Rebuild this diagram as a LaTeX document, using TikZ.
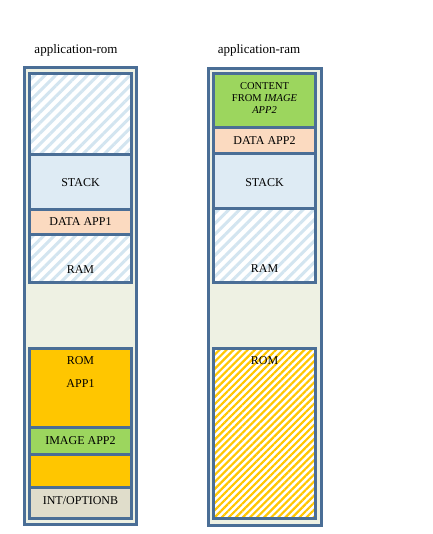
\documentclass[tikz,border=0pt]{standalone}
\usepackage{fontspec}
\setmainfont{Liberation Serif}
\usetikzlibrary{patterns.meta}

\definecolor{frameblue}{HTML}{4A6E96}
\definecolor{panelbg}{HTML}{EEF1E3}
\definecolor{stackblue}{HTML}{DEEBF4}
\definecolor{hatchblue}{HTML}{D3E5F0}
\definecolor{datapeach}{HTML}{FBDAC0}
\definecolor{romyellow}{HTML}{FFC600}
\definecolor{imagegreen}{HTML}{9CD65E}
\definecolor{intgrey}{HTML}{E0DDCB}

\tikzset{
  panel/.style={draw=frameblue, line width=3pt, fill=panelbg},
  block/.style={draw=frameblue, line width=3pt},
  ramhatch/.style={preaction={fill=white}, pattern={Lines[angle=45,distance=7.5pt,line width=3pt]}, pattern color=hatchblue},
  romhatch/.style={preaction={fill=white}, pattern={Lines[angle=45,distance=5pt,line width=2.2pt]}, pattern color=romyellow},
  lbl/.style={font=\fontsize{12}{13}\selectfont, align=center, inner sep=0pt},
  ttl/.style={font=\fontsize{13}{14}\selectfont, inner sep=0pt, anchor=base}
}

\begin{document}
\begin{tikzpicture}[x=1pt, y=-1pt]
  \useasboundingbox (0,0) rectangle (432,534);

  % application-rom
  \node[ttl] (romtitle) at (76, 54) {application-rom};
  \draw[panel] (24.2, 67.2) rectangle (136.5, 524.2);
  \draw[block, ramhatch] (29.8, 73.2) rectangle (131.2, 155);
  \draw[block, fill=stackblue] (29.8, 155) rectangle (131.2, 210);
  \draw[block, fill=datapeach] (29.8, 210) rectangle (131.2, 234);
  \draw[block, ramhatch] (29.8, 234) rectangle (131.2, 282);
  \draw[block, fill=romyellow] (29.8, 348.5) rectangle (131.2, 427);
  \draw[block, fill=imagegreen] (29.8, 427) rectangle (131.2, 454);
  \draw[block, fill=romyellow] (29.8, 454) rectangle (131.2, 487);
  \draw[block, fill=intgrey] (29.8, 487) rectangle (131.2, 518.5);
  \node[lbl] (stackl) at (80.5, 183) {STACK};
  \node[lbl] (datal) at (80.5, 222) {DATA APP1};
  \node[lbl] (raml) at (80.5, 270) {RAM};
  \node[lbl] (roml) at (80.5, 361) {ROM};
  \node[lbl] (appl) at (80.5, 384) {APP1};
  \node[lbl] (imagel) at (80.5, 441) {IMAGE APP2};
  \node[lbl] (intl) at (80.5, 501) {INT/OPTIONB};

  % application-ram
  \node[ttl] (ramtitle) at (259, 54) {application-ram};
  \draw[panel] (208.2, 68.2) rectangle (321.8, 525.2);
  \draw[block, fill=imagegreen] (213.8, 73.8) rectangle (315.2, 127.5);
  \draw[block, fill=datapeach] (213.8, 127.5) rectangle (315.2, 153.5);
  \draw[block, fill=stackblue] (213.8, 153.5) rectangle (315.2, 209);
  \draw[block, ramhatch] (213.8, 209) rectangle (315.2, 282);
  \draw[block, romhatch] (213.8, 348) rectangle (315.2, 518.5);
  \node[lbl, font=\fontsize{10.5}{12}\selectfont] (contentr) at (264.5, 98)
    {CONTENT\\FROM \textit{IMAGE}\\\textit{APP2}};
  \node[lbl] (datar) at (264.5, 141) {DATA APP2};
  \node[lbl] (stackr) at (264.5, 183) {STACK};
  \node[lbl] (ramr) at (264.5, 269) {RAM};
  \node[lbl] (romr) at (264.5, 361) {ROM};
\end{tikzpicture}
\end{document}
